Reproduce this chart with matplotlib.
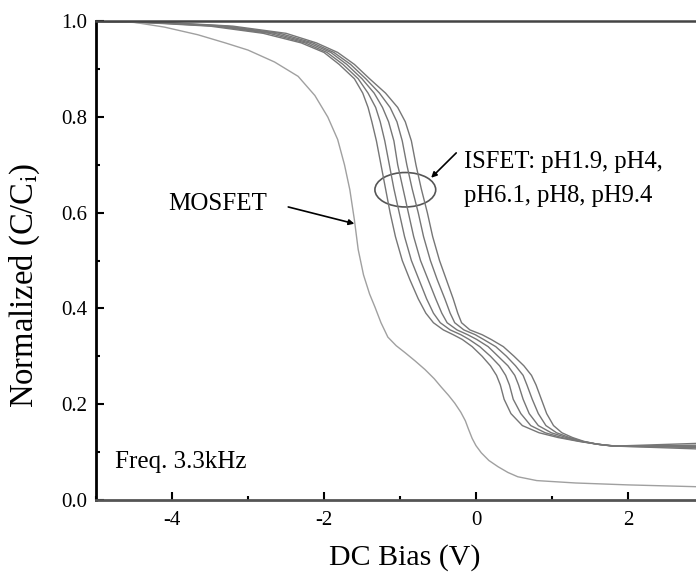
import matplotlib

matplotlib.use("Agg")
import matplotlib.pyplot as plt
from matplotlib.patches import Ellipse
from matplotlib.ticker import MultipleLocator, FormatStrFormatter

plt.rcParams["font.family"] = ["Liberation Serif", "DejaVu Serif"]
plt.rcParams["mathtext.fontset"] = "stix"
plt.rcParams["axes.unicode_minus"] = False

# MOSFET C-V curve
MOS_X = [-5.0, -4.5, -4.1, -3.66, -3.3, -3.0, -2.65, -2.34, -2.12, -1.95, -1.82,
         -1.73, -1.66, -1.6, -1.55, -1.48, -1.4, -1.33, -1.25, -1.16, -1.05,
         -0.93, -0.8, -0.67, -0.55, -0.46, -0.36, -0.28, -0.2, -0.14, -0.1,
         -0.05, 0.0, 0.07, 0.17, 0.29, 0.42, 0.55, 0.8, 1.31, 2.0, 2.95]
MOS_Y = [1.0, 0.998, 0.988, 0.972, 0.955, 0.94, 0.915, 0.885, 0.845, 0.80, 0.753,
         0.70, 0.648, 0.585, 0.523, 0.47, 0.43, 0.403, 0.37, 0.34, 0.322,
         0.307, 0.29, 0.272, 0.253, 0.236, 0.218, 0.202, 0.183, 0.165, 0.148,
         0.128, 0.113, 0.098, 0.082, 0.069, 0.057, 0.048, 0.04, 0.035, 0.031, 0.027]

# ISFET curves: bias (V) for each pH at shared normalized levels
ISFET_Y = [1.0, 0.997, 0.99, 0.975, 0.955, 0.935, 0.91, 0.88, 0.85, 0.82, 0.79,
           0.75, 0.70, 0.65, 0.60, 0.55, 0.50, 0.46, 0.42, 0.39, 0.37, 0.355,
           0.345, 0.335, 0.32, 0.30, 0.28, 0.26, 0.24, 0.21, 0.18, 0.155,
           0.14, 0.13, 0.122, 0.116, 0.112]
PH19_X = [-5.0, -4.3, -3.5, -2.8, -2.3, -2.0, -1.8, -1.6, -1.49, -1.42, -1.37,
          -1.31, -1.25, -1.19, -1.13, -1.06, -0.97, -0.87, -0.76, -0.66, -0.56,
          -0.43, -0.3, -0.18, -0.05, 0.08, 0.19, 0.27, 0.32, 0.37, 0.46, 0.61,
          0.83, 1.08, 1.35, 1.6, 1.85]
PH4_X = [-5.0, -4.22, -3.42, -2.72, -2.25, -1.96, -1.75, -1.55, -1.42, -1.32, -1.26,
         -1.2, -1.14, -1.08, -1.01, -0.94, -0.85, -0.75, -0.65, -0.56, -0.47,
         -0.34, -0.2, -0.09, 0.05, 0.19, 0.31, 0.39, 0.44, 0.49, 0.59, 0.72,
         0.91, 1.13, 1.37, 1.6, 1.84]
PH61_X = [-5.0, -4.15, -3.35, -2.65, -2.2, -1.91, -1.7, -1.5, -1.34, -1.23, -1.15,
          -1.08, -1.03, -0.96, -0.89, -0.82, -0.73, -0.63, -0.53, -0.45, -0.38,
          -0.25, -0.11, 0.01, 0.16, 0.29, 0.42, 0.51, 0.56, 0.62, 0.7, 0.82,
          0.99, 1.19, 1.39, 1.6, 1.83]
PH8_X = [-5.0, -4.08, -3.28, -2.58, -2.15, -1.87, -1.65, -1.45, -1.27, -1.13, -1.04,
         -0.97, -0.91, -0.84, -0.76, -0.69, -0.60, -0.51, -0.41, -0.34, -0.28,
         -0.16, -0.01, 0.1, 0.26, 0.4, 0.52, 0.62, 0.67, 0.74, 0.82, 0.92,
         1.06, 1.23, 1.4, 1.6, 1.81]
PH94_X = [-5.0, -4.0, -3.2, -2.5, -2.1, -1.82, -1.6, -1.4, -1.19, -1.03, -0.93,
          -0.85, -0.79, -0.72, -0.64, -0.57, -0.48, -0.39, -0.3, -0.24, -0.19,
          -0.08, 0.08, 0.2, 0.36, 0.5, 0.63, 0.73, 0.79, 0.86, 0.93, 1.02,
          1.13, 1.27, 1.42, 1.6, 1.8]
ISFET_X = [PH19_X, PH4_X, PH61_X, PH8_X, PH94_X]
ISFET_END_X = 2.95
ISFET_END_Y = [0.106, 0.109, 0.111, 0.114, 0.118]

fig = plt.figure(figsize=(6.96, 5.74), dpi=100)
ax = fig.add_axes([0.1379, 0.1294, 0.8736, 0.8334])

for xs, y_end in zip(ISFET_X, ISFET_END_Y):
    ax.plot(xs + [ISFET_END_X], ISFET_Y + [y_end], color="#767676", linewidth=1.0)
ax.plot(MOS_X, MOS_Y, color="#a0a0a0", linewidth=1.0)

ax.set_xlim(-5, 3)
ax.set_ylim(0, 1.0)
ax.xaxis.set_major_locator(MultipleLocator(2))
ax.xaxis.set_minor_locator(MultipleLocator(1))
ax.yaxis.set_major_locator(MultipleLocator(0.2))
ax.yaxis.set_minor_locator(MultipleLocator(0.1))
ax.yaxis.set_major_formatter(FormatStrFormatter("%.1f"))
ax.tick_params(which="both", direction="in", width=1.5, labelsize=15)
ax.tick_params(which="major", length=6)
ax.tick_params(which="minor", length=3)
ax.tick_params(axis="x", pad=8)
ax.tick_params(axis="y", pad=6)

for side in ("left", "bottom"):
    ax.spines[side].set_linewidth(2.0)
ax.spines["bottom"].set_color("#555555")
ax.spines["top"].set_linewidth(1.8)
ax.spines["top"].set_color("#444444")
ax.spines["right"].set_visible(False)

ax.set_xlabel("DC Bias (V)", fontsize=21.5)
ax.xaxis.set_label_coords(0.508, -0.093)
ax.set_ylabel("Normalized (C/C$_{\\rm i}$)", fontsize=23.5)
ax.yaxis.set_label_coords(-0.089, 0.449)

# annotations
ax.text(-4.05, 0.619, "MOSFET", fontsize=18, ha="left", va="center")
ax.annotate("", xy=(-1.6, 0.577), xytext=(-2.47, 0.612),
            arrowprops=dict(arrowstyle="-|>", color="black", lw=1.2,
                            mutation_scale=8, shrinkA=0, shrinkB=0))

ax.add_patch(Ellipse((-0.93, 0.648), 0.80, 0.072, fill=False,
                     edgecolor="#555555", linewidth=1.2))
ax.annotate("", xy=(-0.59, 0.673), xytext=(-0.26, 0.725),
            arrowprops=dict(arrowstyle="-|>", color="black", lw=1.2,
                            mutation_scale=8, shrinkA=0, shrinkB=0))
ax.text(-0.16, 0.705, "ISFET: pH1.9, pH4,", fontsize=17.7, ha="left", va="center")
ax.text(-0.16, 0.634, "pH6.1, pH8, pH9.4", fontsize=17.7, ha="left", va="center")

ax.text(-4.75, 0.078, "Freq. 3.3kHz", fontsize=18, ha="left", va="center")

fig.savefig("out.png", dpi=100)
